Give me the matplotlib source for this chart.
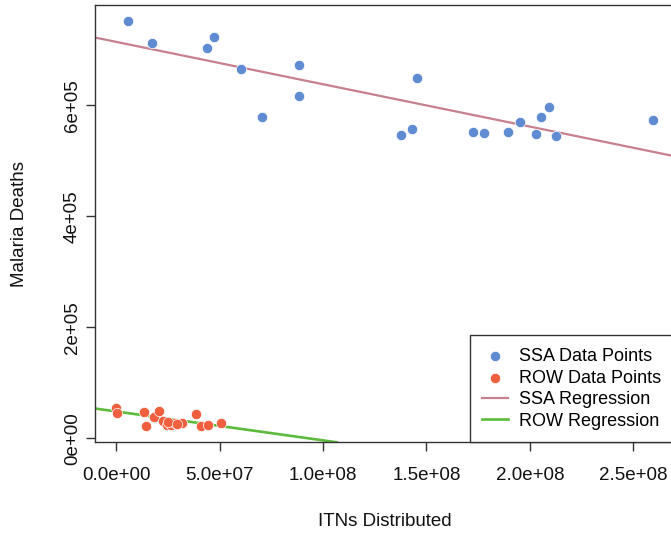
from matplotlib import pyplot as plt

plt.rcParams['font.family'] = ['Liberation Sans', 'DejaVu Sans']

# SSA points (ITNs distributed, malaria deaths)
ssa_itns = [5.66e6, 1.71e7, 4.39e7, 4.71e7, 6.02e7, 7.05e7, 8.85e7, 8.82e7,
            1.453e8, 1.377e8, 1.430e8, 1.725e8, 1.778e8, 1.893e8, 1.954e8,
            2.029e8, 2.055e8, 2.092e8, 2.128e8, 2.594e8]
ssa_deaths = [751300, 711700, 703800, 723600, 665500, 577900, 673200, 617400,
              649800, 546200, 556300, 551600, 550400, 550900, 569600,
              548000, 577900, 597700, 545000, 573200]

# rest of world points
row_itns = [0.0, 2.0e5, 1.33e7, 1.42e7, 1.83e7, 2.05e7, 2.27e7, 2.43e7,
            2.64e7, 2.83e7, 3.18e7, 3.85e7, 4.09e7, 4.41e7, 5.06e7, 2.5e7, 2.95e7]
row_deaths = [54500, 45500, 48400, 23200, 38200, 49100, 31100, 24700,
              23500, 27700, 27700, 43400, 22300, 24700, 27700, 29000, 26000]

# regression lines (intercept, slope)
ssa_fit = (713950, -7.62e-4)
row_fit = (48600, -5.2e-4)

blue = '#5f8bd2'
red = '#f0603f'
pink = '#c8808f'
green = '#5dbb3c'
dark = '#333333'
fs = 13.5


def limits(vals):
   lo, hi = min(vals), max(vals)
   r = hi - lo
   return lo - 0.04 * r, hi + 0.04 * r


fig = plt.figure(figsize=(6.71, 5.36), dpi=100)
ax = fig.add_axes([0.1416, 0.1748, 0.8629, 0.8159])

ax.scatter(ssa_itns, ssa_deaths, s=55, color=blue, edgecolor='white',
           linewidth=0.5, label='SSA Data Points', zorder=3)
ax.scatter(row_itns, row_deaths, s=55, color=red, edgecolor='white',
           linewidth=0.5, label='ROW Data Points', zorder=3)
ax.axline((0, ssa_fit[0]), slope=ssa_fit[1], color=pink, lw=1.6,
          label='SSA Regression', zorder=2)
ax.axline((0, row_fit[0]), slope=row_fit[1], color=green, lw=1.9,
          label='ROW Regression', zorder=2)

ax.set_xlim(limits(ssa_itns + row_itns))
ax.set_ylim(limits(ssa_deaths + row_deaths))

xt = [0, 5e7, 1e8, 1.5e8, 2e8, 2.5e8]
ax.set_xticks(xt)
ax.set_xticklabels(['0.0e+00', '5.0e+07', '1.0e+08', '1.5e+08', '2.0e+08', '2.5e+08'])
yt = [0, 2e5, 4e5, 6e5]
ax.set_yticks(yt)
ax.set_yticklabels(['0e+00', '2e+05', '4e+05', '6e+05'])
for lbl in ax.get_yticklabels():
   lbl.set_rotation(90)
   lbl.set_va('center')

ax.tick_params(axis='both', length=6.5, width=1, color=dark, labelsize=fs,
               labelcolor='#111111')
ax.tick_params(axis='x', pad=11)
ax.tick_params(axis='y', pad=3.5)
for sp in ax.spines.values():
   sp.set_color(dark)
   sp.set_linewidth(1)

ax.set_xlabel('ITNs Distributed', fontsize=fs, color='#111111')
ax.set_ylabel('Malaria Deaths', fontsize=fs, color='#111111', va='center')
ax.xaxis.set_label_coords(0.5, -0.162)
ax.yaxis.set_label_coords(-0.13, 0.5)

leg = ax.legend(loc='lower right', bbox_to_anchor=(1, 0), borderaxespad=0,
                fontsize=13, fancybox=False, edgecolor=dark, framealpha=1,
                labelspacing=0.25, handlelength=1.4, handletextpad=0.65,
                borderpad=0.7, scatterpoints=1, markerscale=1.0)
leg.get_frame().set_linewidth(1)

fig.savefig('out.png', dpi=100)
